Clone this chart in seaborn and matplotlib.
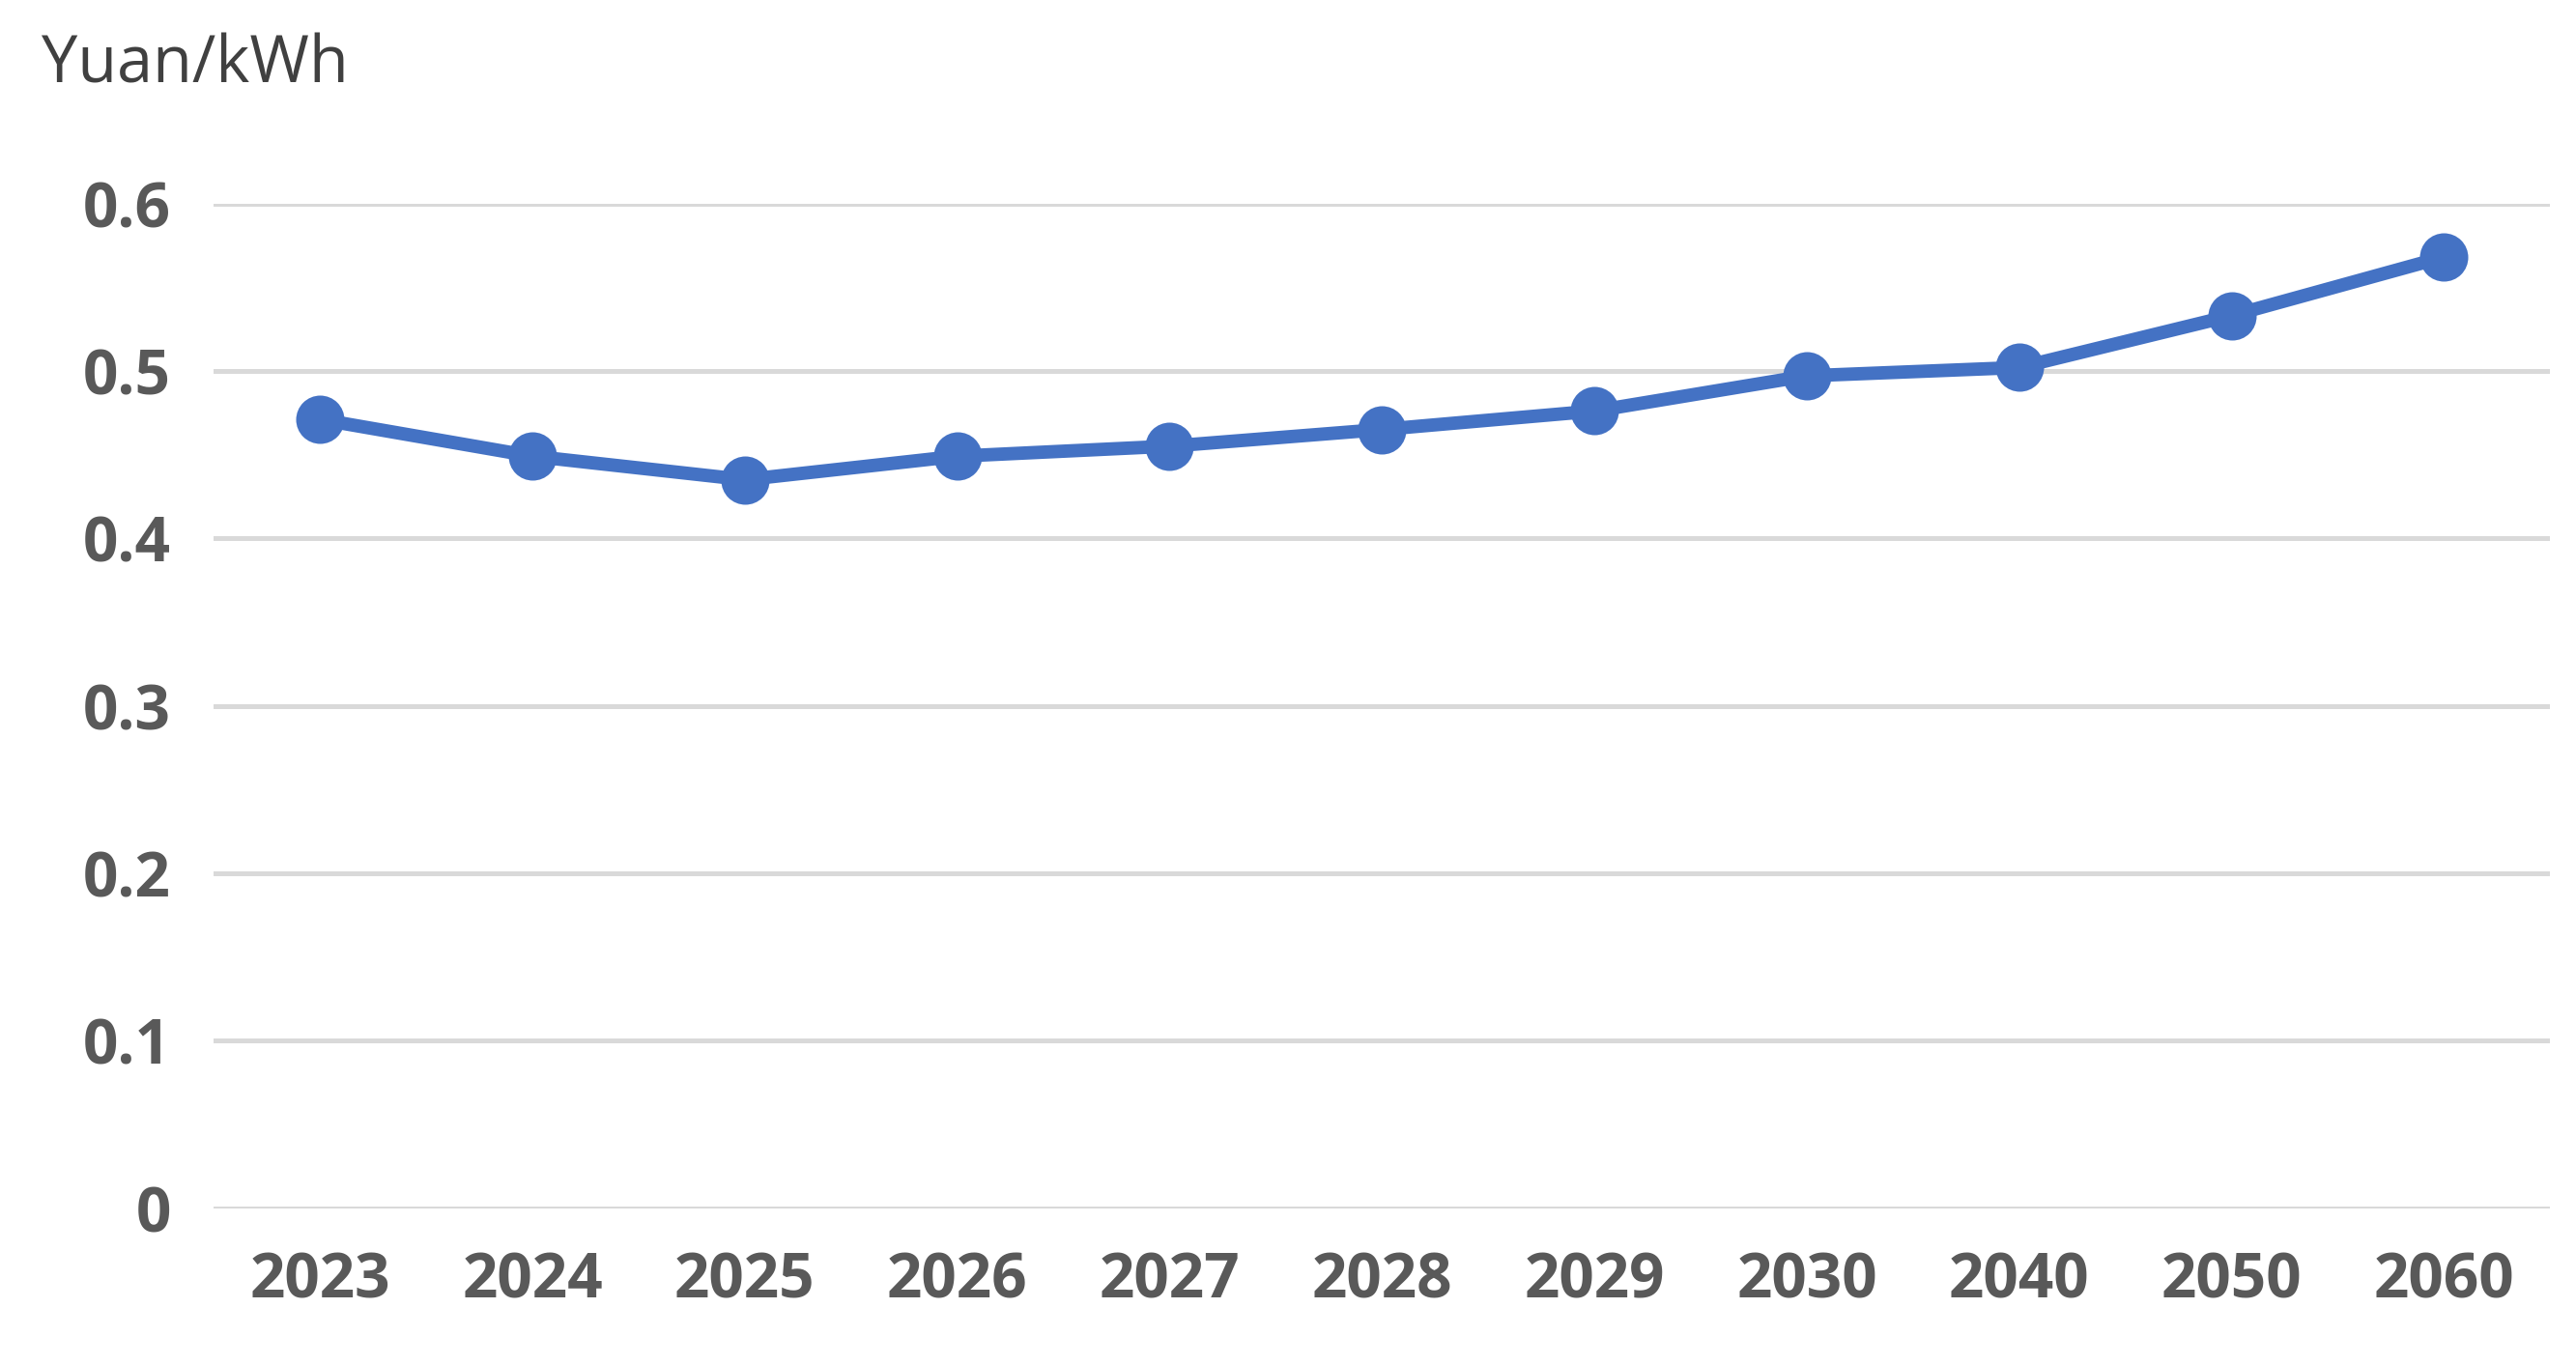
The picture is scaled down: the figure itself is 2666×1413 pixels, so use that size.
import matplotlib
matplotlib.use('Agg')
import matplotlib.pyplot as plt
import seaborn as sns
import pandas as pd

years = ['2023', '2024', '2025', '2026', '2027', '2028', '2029', '2030', '2040', '2050', '2060']
price = [0.471, 0.449, 0.435, 0.449, 0.455, 0.465, 0.476, 0.497, 0.502, 0.533, 0.568]
yticks = [0, 0.1, 0.2, 0.3, 0.4, 0.5, 0.6]

sns.set_style('white')
plt.rcParams['font.family'] = ['Open Sans', 'DejaVu Sans']

df = pd.DataFrame({'year': years, 'price': price})

fig = plt.figure(figsize=(13.33, 7.065), dpi=200)
ax = fig.add_axes([0.083, 0.115, 0.907, 0.736])

sns.lineplot(data=df, x='year', y='price', sort=False, ax=ax, color='#4472C4',
             linewidth=5, marker='o', markersize=18, markeredgewidth=0)

ax.set_xlim(-0.5, len(years) - 0.5)
ax.set_ylim(0, 0.6)
ax.set_yticks(yticks)
ax.set_yticklabels(['0' if v == 0 else f'{v:.1f}' for v in yticks])
ax.yaxis.grid(True, color='#D9D9D9', linewidth=1.8)
ax.set_axisbelow(True)
for s in ax.spines.values():
    s.set_visible(False)
ax.tick_params(axis='both', length=0, labelsize=23, labelcolor='#595959', pad=16)
for lab in ax.get_xticklabels() + ax.get_yticklabels():
    lab.set_fontweight('bold')
ax.set_xlabel('')
ax.set_ylabel('')
for line in ax.lines:
    line.set_clip_on(False)

fig.text(0.016, 0.952, 'Yuan/kWh', fontsize=24, color='#404040', va='center', ha='left')

fig.savefig('out.png', dpi=200)
